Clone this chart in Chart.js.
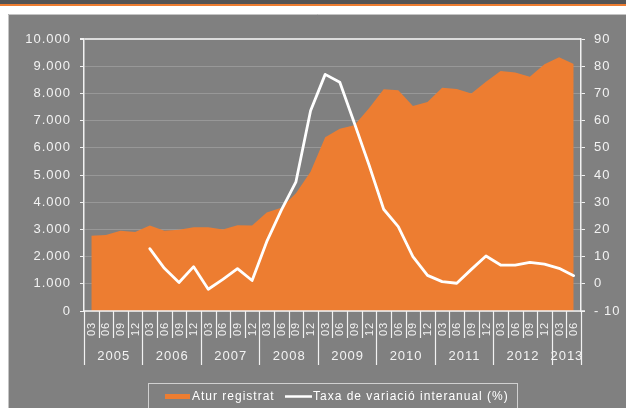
<!DOCTYPE html>
<html>
<head>
<meta charset="utf-8">
<script src="https://cdn.jsdelivr.net/npm/chart.js@4.4.0/dist/chart.umd.min.js"></script>
<style>
  html, body { margin: 0; padding: 0; background: #fff; }
  #wrap { position: relative; width: 626px; height: 408px; }
</style>
</head>
<body>
<div id="wrap"><canvas id="aturChart" width="626" height="408"></canvas></div>
<script>
// --- Data ---
const years = ['2005', '2006', '2007', '2008', '2009', '2010', '2011', '2012', '2013'];
const quarters = ['03', '06', '09', '12'];
const quartersLastYear = ['03', '06'];

const aturRegistrat = [
  2770, 2790, 2950, 2900,   // 2005
  3140, 2950, 2990, 3080,   // 2006
  3080, 3000, 3150, 3140,   // 2007
  3620, 3800, 4330, 5120,   // 2008
  6390, 6700, 6830, 7450,   // 2009
  8150, 8120, 7540, 7680,   // 2010
  8210, 8160, 8000, 8430,   // 2011
  8820, 8770, 8610, 9070,   // 2012
  9330, 9080                // 2013
];

const taxaVariacio = [
  null, null, null, null,   // 2005
  12.9, 5.7, 0.5, 6.3,      // 2006
  -2.0, 1.6, 5.6, 1.2,      // 2007
  15.5, 27.1, 37.5, 63.6,   // 2008
  77.0, 74.1, 59.0, 43.7,   // 2009
  27.4, 21.0, 10.0, 3.1,    // 2010
  0.8, 0.2, 5.3, 10.2,      // 2011
  6.9, 6.9, 7.9, 7.2,       // 2012
  5.7, 3.0                  // 2013
];

const leftTicks = [0, 1000, 2000, 3000, 4000, 5000, 6000, 7000, 8000, 9000, 10000];
const rightTicks = [-10, 0, 10, 20, 30, 40, 50, 60, 70, 80, 90];

// category list: one entry per quarter, with its year
const categories = [];
years.forEach(function(y, i) {
  const qs = i === years.length - 1 ? quartersLastYear : quarters;
  qs.forEach(function(q) { categories.push({ year: y, q: q }); });
});

const ORANGE = '#ed7d31';
const PANEL = '#808080';
const FONT = '"Liberation Sans", Arial, sans-serif';

function fmtThousands(v) {
  return String(v).replace(/\B(?=(\d{3})+(?!\d))/g, '.');
}

// --- background: header bands + grey panel ---
const backgroundPlugin = {
  id: 'backgroundPlugin',
  beforeDraw(chart) {
    const ctx = chart.ctx;
    ctx.save();
    ctx.fillStyle = '#fff';
    ctx.fillRect(0, 0, chart.width, chart.height);
    ctx.fillStyle = '#555555';
    ctx.fillRect(0, 0, chart.width, 4);
    ctx.fillStyle = ORANGE;
    ctx.fillRect(0, 4, chart.width, 2);
    ctx.fillStyle = PANEL;
    ctx.fillRect(8, 14, chart.width - 8, chart.height - 14);
    ctx.strokeStyle = '#c4c4c4';
    ctx.lineWidth = 1;
    ctx.beginPath();
    ctx.moveTo(8.5, chart.height);
    ctx.lineTo(8.5, 14.5);
    ctx.lineTo(chart.width, 14.5);
    ctx.stroke();
    ctx.restore();
    ctx.letterSpacing = '1px';
  }
};

// --- Excel style two level category axis + legend box ---
const axisPlugin = {
  id: 'axisPlugin',
  afterDraw(chart) {
    const ctx = chart.ctx;
    const x = chart.scales.x;
    const { left, right, bottom } = chart.chartArea;
    const step = x.getPixelForValue(1) - x.getPixelForValue(0);
    const n = categories.length;

    ctx.save();
    ctx.letterSpacing = '1px';
    ctx.strokeStyle = '#f2f2f2';
    ctx.lineWidth = 1.5;
    // axis line
    ctx.beginPath();
    ctx.moveTo(left, bottom);
    ctx.lineTo(right + 4, bottom);
    ctx.stroke();

    // separators
    ctx.lineWidth = 1.2;
    for (let i = 0; i <= n; i++) {
      const px = Math.round(x.getPixelForValue(i) - step / 2) + 0.5;
      const isYear = i === n || categories[i].q === '03';
      ctx.beginPath();
      ctx.moveTo(px, bottom);
      ctx.lineTo(px, isYear ? 365 : 338);
      ctx.stroke();
    }

    // quarter labels (rotated)
    ctx.fillStyle = '#f2f2f2';
    ctx.font = '11px ' + FONT;
    ctx.textAlign = 'center';
    ctx.textBaseline = 'middle';
    categories.forEach(function(c, i) {
      const px = x.getPixelForValue(i);
      ctx.save();
      ctx.translate(px + 0.5, 329);
      ctx.rotate(-Math.PI / 2);
      ctx.fillText(c.q, 0, 0);
      ctx.restore();
    });

    // year labels
    ctx.font = '13px ' + FONT;
    years.forEach(function(y) {
      let first = -1, last = -1;
      categories.forEach(function(c, i) {
        if (c.year === y) { if (first < 0) first = i; last = i; }
      });
      const cx = (x.getPixelForValue(first) + x.getPixelForValue(last)) / 2;
      ctx.fillText(y, cx + 0.5, 356);
    });

    // legend
    ctx.strokeStyle = '#d0d0d0';
    ctx.lineWidth = 1;
    ctx.strokeRect(148.5, 383.5, 369, 40);
    ctx.fillStyle = ORANGE;
    ctx.fillRect(165, 394, 25, 5);
    ctx.strokeStyle = '#ffffff';
    ctx.lineWidth = 2.5;
    ctx.beginPath();
    ctx.moveTo(285, 396.5);
    ctx.lineTo(312, 396.5);
    ctx.stroke();
    ctx.fillStyle = '#ffffff';
    ctx.font = '12px ' + FONT;
    ctx.textAlign = 'left';
    ctx.fillText('Atur registrat', 192, 397);
    ctx.fillText(chart.data.datasets[1].label, 313, 397);
    ctx.restore();
  }
};

const config = {
  type: 'line',
  data: {
    labels: categories.map(function(c) { return c.q; }),
    datasets: [
      {
        label: 'Atur registrat',
        data: aturRegistrat,
        yAxisID: 'y',
        fill: 'origin',
        backgroundColor: ORANGE,
        borderColor: ORANGE,
        borderWidth: 0,
        pointRadius: 0,
        tension: 0,
        order: 1
      },
      {
        label: 'Taxa de variació interanual (%)',
        data: taxaVariacio,
        yAxisID: 'y1',
        fill: false,
        borderColor: '#ffffff',
        borderWidth: 2.8,
        borderJoinStyle: 'round',
        borderCapStyle: 'round',
        pointRadius: 0,
        tension: 0,
        spanGaps: false,
        order: 0
      }
    ]
  },
  options: {
    responsive: false,
    animation: false,
    layout: { padding: { top: 39, left: 0, right: 0, bottom: 0 } },
    plugins: {
      legend: { display: false },
      tooltip: { enabled: false }
    },
    scales: {
      x: {
        type: 'category',
        offset: true,
        grid: { display: false },
        border: { display: false },
        ticks: { display: false },
        afterFit(scale) { scale.height = 97; }
      },
      y: {
        position: 'left',
        min: leftTicks[0],
        max: leftTicks[leftTicks.length - 1],
        afterBuildTicks(scale) {
          scale.ticks = leftTicks.map(function(v) { return { value: v }; });
        },
        ticks: {
          color: '#f2f2f2',
          padding: 9,
          font: { family: FONT, size: 13 },
          callback: function(v) { return fmtThousands(v); }
        },
        grid: {
          color: function(c) {
            if (c.tick && c.tick.value === 10000) return '#dcdcdc';
            return '#989898';
          },
          lineWidth: function(c) {
            return c.tick && c.tick.value === 10000 ? 2 : 1;
          },
          tickColor: '#f2f2f2',
          tickLength: 4
        },
        border: { display: true, color: '#f2f2f2', width: 1.5 },
        afterFit(scale) { scale.width = 84; }
      },
      y1: {
        position: 'right',
        min: rightTicks[0],
        max: rightTicks[rightTicks.length - 1],
        afterBuildTicks(scale) {
          scale.ticks = rightTicks.map(function(v) { return { value: v }; });
        },
        ticks: {
          color: '#f2f2f2',
          padding: 9,
          font: { family: FONT, size: 13 },
          callback: function(v) { return v < 0 ? '- ' + Math.abs(v) : String(v); }
        },
        grid: {
          drawOnChartArea: false,
          color: '#f2f2f2',
          tickColor: '#f2f2f2',
          tickLength: 4
        },
        border: { display: true, color: '#f2f2f2', width: 1.5 },
        afterFit(scale) { scale.width = 45; }
      }
    }
  },
  plugins: [backgroundPlugin, axisPlugin]
};

const aturChart = new Chart(document.getElementById('aturChart'), config);
</script>
</body>
</html>
